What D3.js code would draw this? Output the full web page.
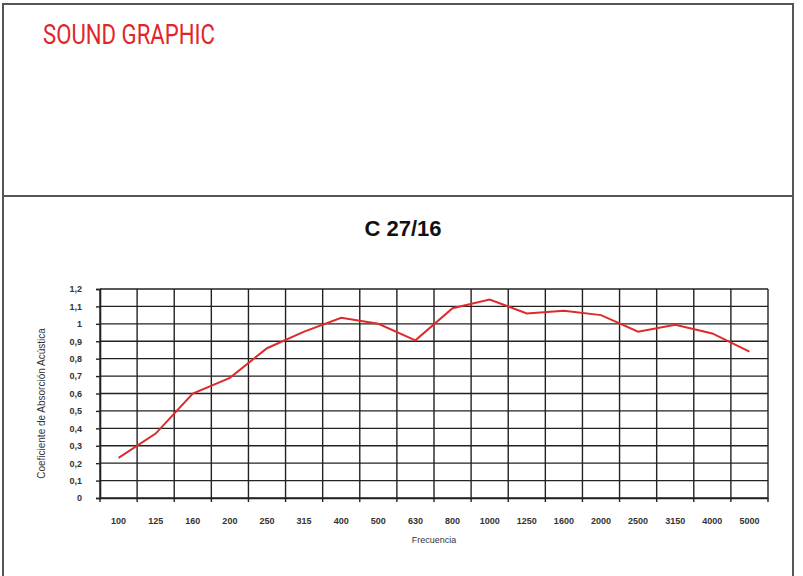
<!DOCTYPE html>
<html>
<head>
<meta charset="utf-8">
<script src="https://cdn.jsdelivr.net/npm/d3@7"></script>
<style>
body { margin:0; background:#fff; }
svg { display:block; }
</style>
</head>
<body>
<svg id="chart" width="803" height="576"></svg>
<script>
// frequencies (Hz) and absorption coefficients
var frecuencias = ["100","125","160","200","250","315","400","500","630","800","1000","1250","1600","2000","2500","3150","4000","5000"];
var coeficientes = [0.23, 0.37, 0.60, 0.69, 0.86, 0.955, 1.035, 1.0, 0.905, 1.09, 1.14, 1.06, 1.075, 1.05, 0.955, 0.995, 0.945, 0.84];
var yTicks = [0, 0.1, 0.2, 0.3, 0.4, 0.5, 0.6, 0.7, 0.8, 0.9, 1, 1.1, 1.2];

var svg = d3.select("#chart");

// frames
svg.append("rect").attr("x",3).attr("y",4).attr("width",790).attr("height",192)
	.attr("fill","none").attr("stroke","#555").attr("stroke-width",2);
svg.append("path").attr("d","M3,580 V196 H793 V580")
	.attr("fill","none").attr("stroke","#555").attr("stroke-width",2);

svg.append("text").attr("x",43).attr("y",44)
	.attr("font-family","Roboto, sans-serif").attr("font-size",27)
	.attr("textLength",172).attr("lengthAdjust","spacingAndGlyphs")
	.attr("fill","#e0262a").text("SOUND GRAPHIC");

svg.append("text").attr("x",403).attr("y",236).attr("text-anchor","middle")
	.attr("font-family","Liberation Sans, Arial, sans-serif").attr("font-size",22)
	.attr("font-weight","bold").attr("fill","#111").text("C 27/16");

var pLeft = 100, pRight = 768, pTop = 289, pBottom = 498;

var x = d3.scaleBand().domain(frecuencias).range([pLeft, pRight]).padding(0);
var y = d3.scaleLinear().domain([0, 1.2]).range([pBottom, pTop]);

var fmt = function(d) { return d3.format(".1~f")(d).replace(".", ","); };

// horizontal grid
svg.append("g").selectAll("line").data(yTicks).enter().append("line")
	.attr("x1",pLeft).attr("x2",pRight)
	.attr("y1",function(d){return y(d);}).attr("y2",function(d){return y(d);})
	.attr("stroke","#222").attr("stroke-width",1.4);

// vertical grid at category boundaries
var bounds = frecuencias.map(function(d){return x(d);}).concat([pRight]);
svg.append("g").selectAll("line").data(bounds).enter().append("line")
	.attr("x1",function(d){return d;}).attr("x2",function(d){return d;})
	.attr("y1",pTop).attr("y2",pBottom+4)
	.attr("stroke","#222").attr("stroke-width",1.4);

// y axis
var yAxis = svg.append("g").attr("transform","translate("+pLeft+",0)")
	.call(d3.axisLeft(y).tickValues(yTicks).tickFormat(fmt).tickSize(4).tickPadding(14));
yAxis.select(".domain").attr("stroke","#222").attr("stroke-width",1.6);
yAxis.selectAll(".tick line").attr("stroke","#222").attr("stroke-width",1.4);
yAxis.selectAll("text").attr("font-family","Liberation Sans, Arial, sans-serif")
	.attr("font-size",9).attr("font-weight","bold").attr("fill","#333");

// x axis
var xAxis = svg.append("g").attr("transform","translate(0,"+pBottom+")")
	.call(d3.axisBottom(x).tickSize(0).tickPadding(20));
xAxis.select(".domain").attr("stroke","#222").attr("stroke-width",1.6);
xAxis.selectAll("text").attr("font-family","Liberation Sans, Arial, sans-serif")
	.attr("font-size",9).attr("font-weight","bold").attr("fill","#333");

svg.append("text").attr("x",(pLeft+pRight)/2).attr("y",543).attr("text-anchor","middle")
	.attr("font-family","Liberation Sans, Arial, sans-serif").attr("font-size",9)
	.attr("fill","#333").text("Frecuencia");

svg.append("text").attr("transform","translate(45,"+((pTop+pBottom)/2+10)+") rotate(-90)")
	.attr("text-anchor","middle")
	.attr("font-family","Liberation Sans, Arial, sans-serif").attr("font-size",10)
	.attr("fill","#333").text("Coeficiente de Absorción Acústica");

// curve
var line = d3.line()
	.x(function(d,i){return x(frecuencias[i]) + x.bandwidth()/2;})
	.y(function(d){return y(d);});
svg.append("path").datum(coeficientes).attr("d",line)
	.attr("fill","none").attr("stroke","#dd2a2a").attr("stroke-width",2);
</script>
</body>
</html>
